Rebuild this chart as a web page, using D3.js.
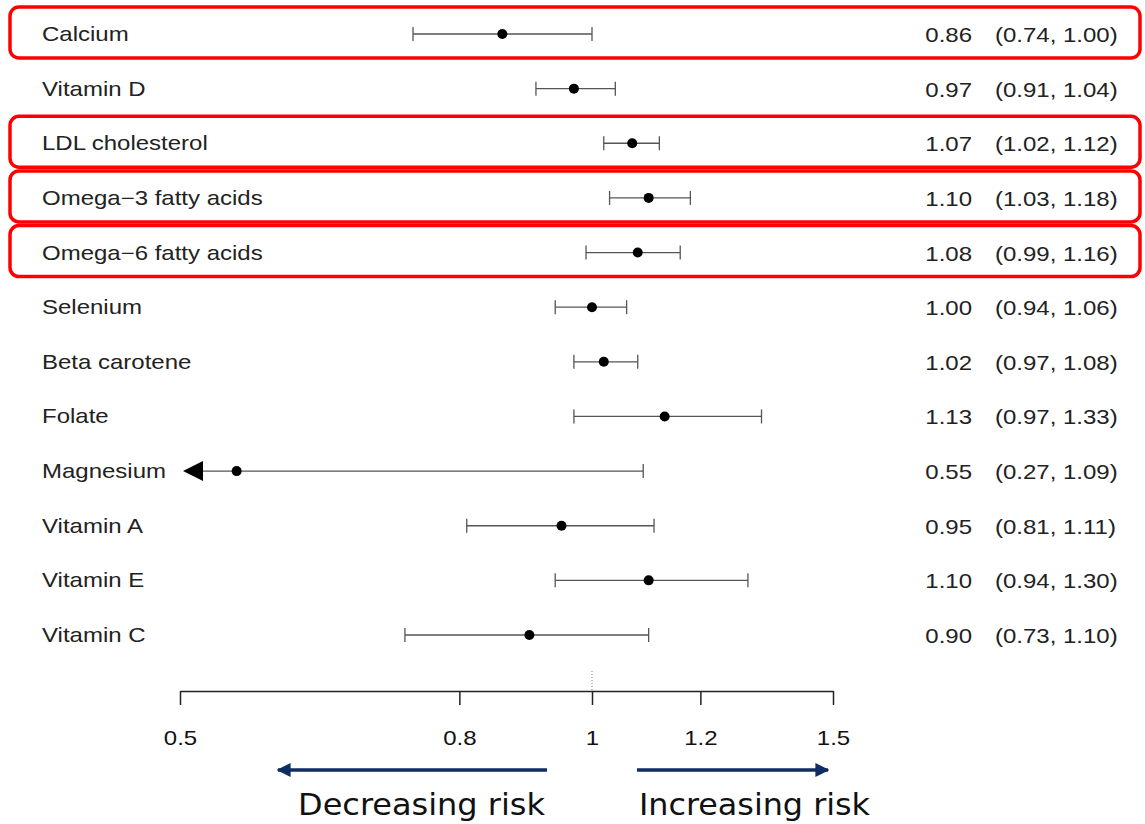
<!DOCTYPE html>
<html>
<head>
<meta charset="utf-8">
<script src="https://cdn.jsdelivr.net/npm/d3@7"></script>
<style>
  body { margin: 0; background: #fff; }
  svg text { font-family: "Liberation Sans", Arial, sans-serif; }
</style>
</head>
<body>
<svg id="chart" width="1145" height="824"></svg>
<script>
let labels = ["Calcium", "Vitamin D", "LDL cholesterol", "Omega\u22123 fatty acids", "Omega\u22126 fatty acids",
  "Selenium", "Beta carotene", "Folate", "Magnesium", "Vitamin A", "Vitamin E", "Vitamin C"];
let estimates = [0.86, 0.97, 1.07, 1.10, 1.08, 1.00, 1.02, 1.13, 0.55, 0.95, 1.10, 0.90];
let lower = [0.74, 0.91, 1.02, 1.03, 0.99, 0.94, 0.97, 0.97, 0.27, 0.81, 0.94, 0.73];
let upper = [1.00, 1.04, 1.12, 1.18, 1.16, 1.06, 1.08, 1.33, 1.09, 1.11, 1.30, 1.10];
let highlighted = ["Calcium", "LDL cholesterol", "Omega\u22123 fatty acids", "Omega\u22126 fatty acids"];
let tickValues = [0.5, 0.8, 1, 1.2, 1.5];

let svg = d3.select("#chart");
let fmt = d3.format(".2f");
let SX = 1.2; // the source text is a bit stretched horizontally

var x = d3.scaleLog().domain([0.5, 1.5]).range([180, 833]);
var y = d3.scalePoint().domain(labels).range([34, 635]);

// red highlight boxes
labels.forEach((lab) => {
  if (highlighted.indexOf(lab) < 0) return;
  svg.append("rect")
    .attr("x", 10).attr("y", y(lab) - 27)
    .attr("width", 1130).attr("height", 51)
    .attr("rx", 9).attr("ry", 9)
    .attr("fill", "none")
    .attr("stroke", "#ff0000")
    .attr("stroke-width", 3.5);
});

// reference line at 1
svg.append("line")
  .attr("x1", x(1)).attr("x2", x(1))
  .attr("y1", 671).attr("y2", 690)
  .attr("stroke", "#777").attr("stroke-dasharray", "1,2");

let rows = svg.selectAll(".row")
  .data(labels.map((l, i) => ({ label: l, est: estimates[i], lo: lower[i], hi: upper[i] })))
  .enter().append("g")
  .attr("class", "row")
  .attr("transform", d => "translate(0," + y(d.label) + ")");

rows.append("text")
  .attr("transform", "translate(42,7) scale(" + SX + ",1)")
  .attr("font-size", 20).attr("fill", "#222")
  .text(d => d.label);

rows.append("line")
  .attr("x1", d => Math.max(x(d.lo), x(0.5) + 10))
  .attr("x2", d => x(d.hi))
  .attr("stroke", "#555").attr("stroke-width", 1.3);

// whisker caps (only where inside the axis)
rows.filter(d => d.lo >= 0.5).append("line")
  .attr("x1", d => x(d.lo)).attr("x2", d => x(d.lo))
  .attr("y1", -7).attr("y2", 7)
  .attr("stroke", "#555").attr("stroke-width", 1.3);
rows.append("line")
  .attr("x1", d => x(d.hi)).attr("x2", d => x(d.hi))
  .attr("y1", -7).attr("y2", 7)
  .attr("stroke", "#555").attr("stroke-width", 1.3);

// arrow for CI beyond the axis
rows.filter(d => d.lo < 0.5).append("path")
  .attr("d", () => {
    let x0 = x(0.5) + 3;
    return "M" + x0 + ",0L" + (x0 + 20) + ",-10L" + (x0 + 20) + ",10Z";
  })
  .attr("fill", "#000");

rows.append("circle")
  .attr("cx", d => x(d.est)).attr("r", 5)
  .attr("fill", "#000");

rows.append("text")
  .attr("transform", "translate(972,8) scale(" + SX + ",1)")
  .attr("text-anchor", "end")
  .attr("font-size", 20).attr("fill", "#222")
  .text(d => fmt(d.est));

rows.append("text")
  .attr("transform", "translate(995,8) scale(" + SX + ",1)")
  .attr("font-size", 20).attr("fill", "#222")
  .text(d => "(" + fmt(d.lo) + ", " + fmt(d.hi) + ")");

// x axis
var xAxis = d3.axisBottom(x)
  .tickValues(tickValues)
  .tickSize(14)
  .tickSizeOuter(0)
  .tickPadding(26)
  .tickFormat(d3.format(""));

var axisgroup = svg.append("g")
  .attr("transform", "translate(0,691)")
  .call(xAxis);
axisgroup.select(".domain").attr("stroke", "#222").attr("stroke-width", 1.5);
axisgroup.selectAll(".tick line").attr("stroke", "#222").attr("stroke-width", 1.5);
axisgroup.selectAll(".tick text")
  .attr("font-size", 20).attr("fill", "#111")
  .attr("transform", "scale(" + SX + ",1)")
  .style("font-family", "Liberation Sans, Arial, sans-serif");

// risk arrows
let defs = svg.append("defs");
defs.append("marker")
  .attr("id", "head")
  .attr("viewBox", "0 0 10 10")
  .attr("refX", 9).attr("refY", 5)
  .attr("markerWidth", 4).attr("markerHeight", 4)
  .attr("orient", "auto")
  .append("path").attr("d", "M0,0L10,5L0,10Z").attr("fill", "#0f2d63");

svg.append("line")
  .attr("x1", 547).attr("x2", 278).attr("y1", 770).attr("y2", 770)
  .attr("stroke", "#0f2d63").attr("stroke-width", 3.5)
  .attr("marker-end", "url(#head)");
svg.append("line")
  .attr("x1", 637).attr("x2", 828).attr("y1", 770).attr("y2", 770)
  .attr("stroke", "#0f2d63").attr("stroke-width", 3.5)
  .attr("marker-end", "url(#head)");

svg.append("text")
  .attr("x", 298).attr("y", 815)
  .attr("font-size", 31).attr("fill", "#111")
  .attr("textLength", 247).attr("lengthAdjust", "spacingAndGlyphs")
  .style("font-family", "'Liberation Sans Narrow', 'DejaVu Sans Condensed', sans-serif")
  .text("Decreasing risk");
svg.append("text")
  .attr("x", 639).attr("y", 815)
  .attr("font-size", 31).attr("fill", "#111")
  .attr("textLength", 231).attr("lengthAdjust", "spacingAndGlyphs")
  .style("font-family", "'Liberation Sans Narrow', 'DejaVu Sans Condensed', sans-serif")
  .text("Increasing risk");
</script>
</body>
</html>
